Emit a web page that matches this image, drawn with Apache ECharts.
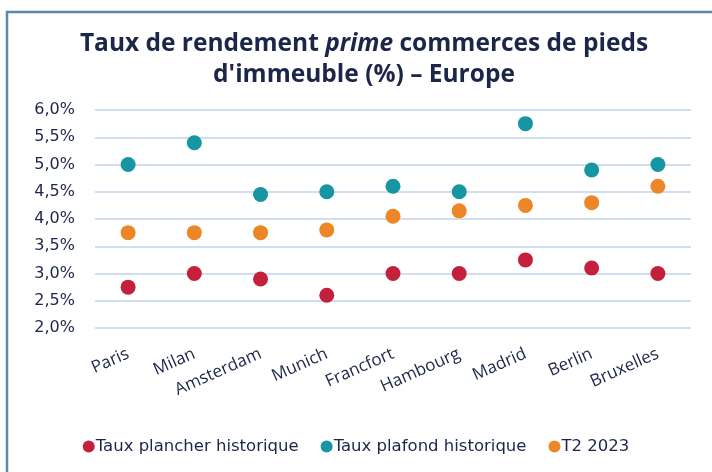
<!DOCTYPE html>
<html><head><meta charset="utf-8">
<script src="https://cdn.jsdelivr.net/npm/echarts@6/dist/echarts.min.js"></script>
<style>html,body{margin:0;padding:0;background:#fff}#c{width:712px;height:472px}</style>
</head><body><div id="c"></div>
<script>
const categories = ['Paris','Milan','Amsterdam','Munich','Francfort','Hambourg','Madrid','Berlin','Bruxelles'];
const plancher = [2.75, 3.0, 2.9, 2.6, 3.0, 3.0, 3.25, 3.1, 3.0];
const plafond = [5.0, 5.4, 4.45, 4.5, 4.6, 4.5, 5.75, 4.9, 5.0];
const t2_2023 = [3.75, 3.75, 3.75, 3.8, 4.05, 4.15, 4.25, 4.3, 4.6];
const seriesNames = ['Taux plancher historique','Taux plafond historique','T2 2023'];
const yTicks = [2.0, 2.5, 3.0, 3.5, 4.0, 4.5, 5.0, 5.5, 6.0];

const textColor = '#1C2649';
const chart = echarts.init(document.getElementById('c'), null, {renderer:'canvas'});
const mk = (name, data, color) => ({
  name, type:'scatter', data, symbol:'circle', symbolSize:15,
  itemStyle:{color, opacity:1}, z: 3
});
chart.setOption({
  animation:false,
  graphic:[{type:'rect', shape:{x:7, y:12, width:900, height:700}, style:{fill:'none', stroke:'#5F88A6', lineWidth:2.5}, silent:true}],
  title:{
    text:'{b|Taux de rendement }{i|prime}{b| commerces de pieds}\n{b|d\'immeuble (%) – Europe}',
    left:359, textAlign:'center', top:24,
    textStyle:{
      rich:{
        b:{fontFamily:'Open Sans', fontWeight:'bold', fontSize:24.5, color:textColor, lineHeight:31},
        i:{fontFamily:'Open Sans', fontWeight:'bold', fontStyle:'italic', fontSize:24.5, color:textColor, lineHeight:31}
      }
    }
  },
  grid:{left:95, right:21, top:110, bottom:144, containLabel:false},
  legend:{
    left:'center', top:433, itemWidth:12, itemHeight:12, itemGap:22,
    icon:'circle',
    textStyle:{fontFamily:'DejaVu Sans', fontSize:16.5, color:textColor, padding:[0,0,0,-4]},
    data:seriesNames
  },
  xAxis:{
    type:'category', data:categories, boundaryGap:true,
    axisLine:{show:false}, axisTick:{show:false},
    axisLabel:{rotate:24, margin:25, fontFamily:'Open Sans', fontSize:17, color:textColor, interval:0}
  },
  yAxis:{
    type:'value', min:2, max:6, interval:0.5,
    axisLine:{show:false}, axisTick:{show:false},
    splitLine:{lineStyle:{color:'#D0DEF0', width:2}},
    axisLabel:{margin:20, fontFamily:'DejaVu Sans', fontSize:16, color:textColor,
      formatter:v=>v.toFixed(1).replace('.',',')+'%'}
  },
  series:[
    mk(seriesNames[0], plancher, '#C5203B'),
    mk(seriesNames[1], plafond, '#1695A3'),
    mk(seriesNames[2], t2_2023, '#EC8627')
  ]
});
</script></body></html>
